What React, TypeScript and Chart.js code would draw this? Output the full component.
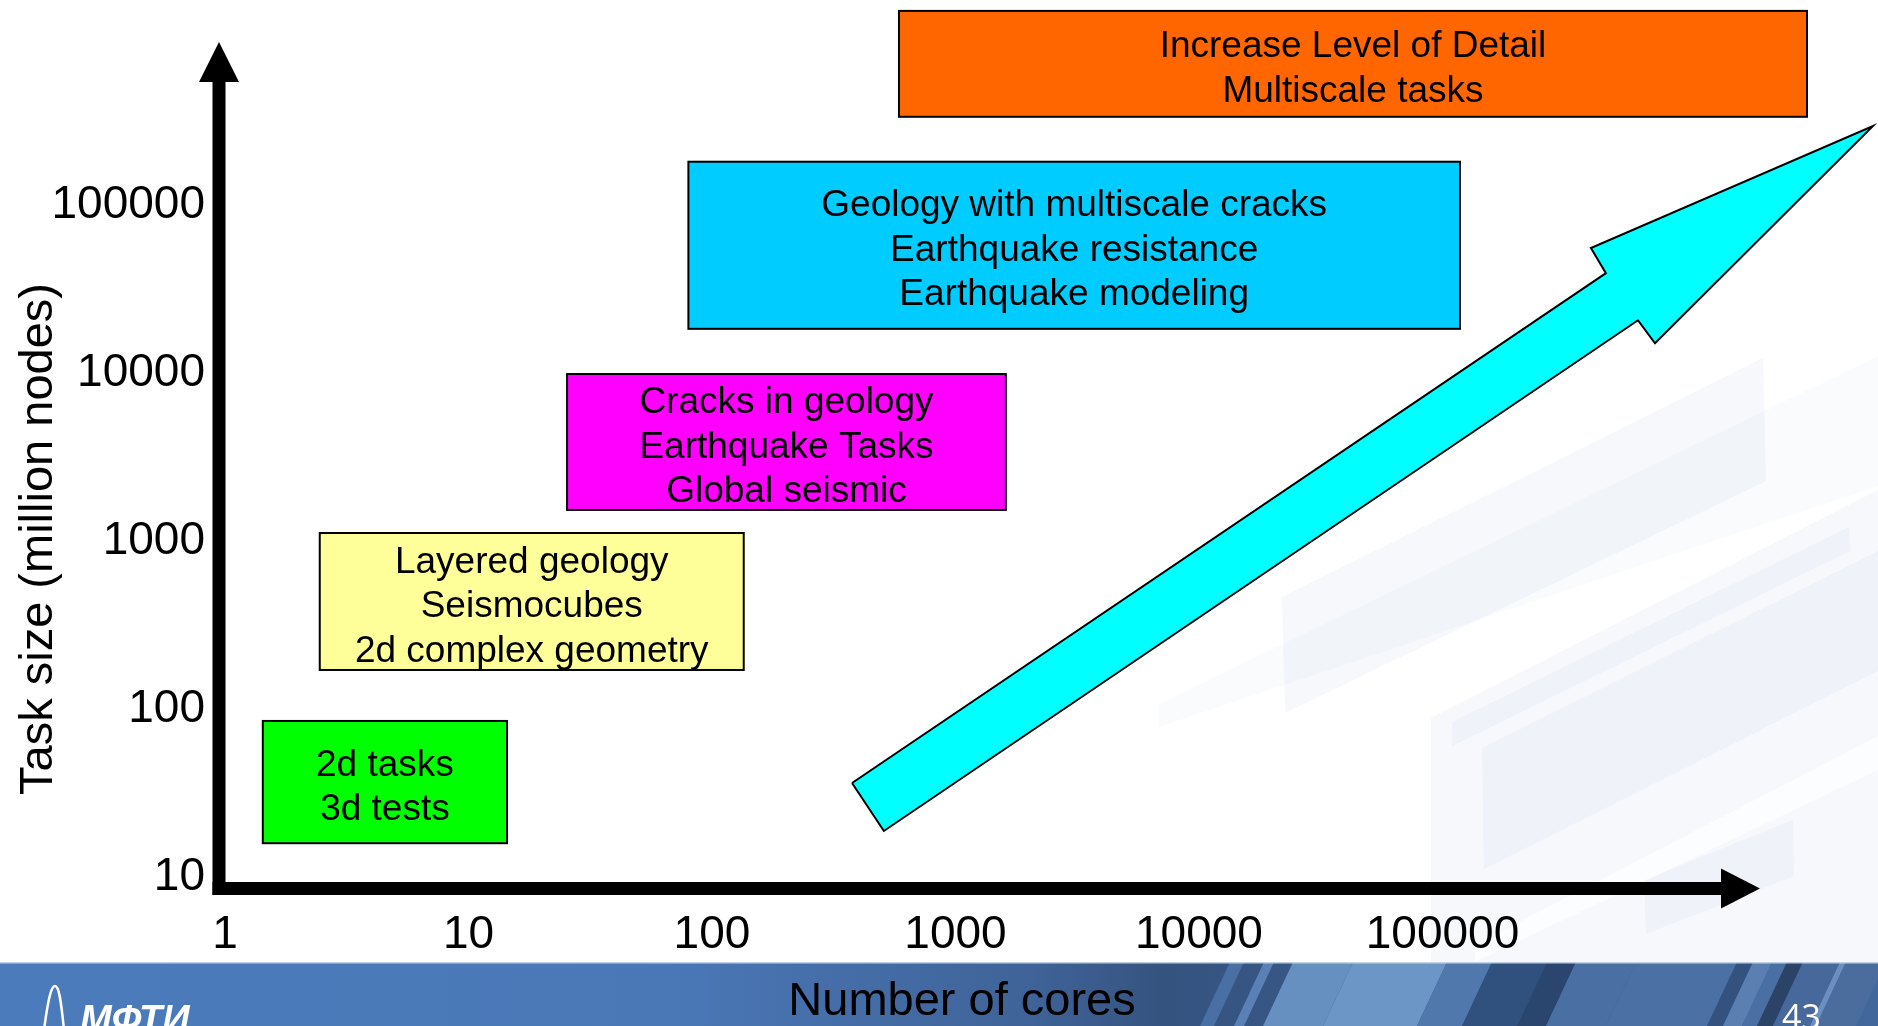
import React, { useEffect, useRef } from 'react';
import { Chart, registerables } from 'chart.js';

Chart.register(...registerables);

// ---------------- data ----------------
const xTickValues = [1, 10, 100, 1000, 10000, 100000];
const yTickValues = [10, 100, 1000, 10000, 100000];
const xAxisTitle = 'Number of cores';
const yAxisTitle = 'Task size (million nodes)';

const boxLabels = [
  ['Increase Level of Detail', 'Multiscale tasks'],
  ['Geology with multiscale cracks', 'Earthquake resistance', 'Earthquake modeling'],
  ['Cracks in geology', 'Earthquake Tasks', 'Global seismic'],
  ['Layered geology', 'Seismocubes', '2d complex geometry'],
  ['2d tasks', '3d tests'],
];
const boxCoresFrom = [586, 80, 25.4, 2.45, 1.43];
const boxCoresTo = [3.14e6, 1.18e5, 1610, 135, 14.4];
const boxSizeFrom = [3.37e5, 1.84e4, 1535, 171, 15.9];
const boxSizeTo = [1.44e6, 1.82e5, 9900, 1119, 85];

// trend arrow outline (cores, task size)
const arrowCores = [376, 4.69e5, 4.07e5, 5.86e6, 7.46e5, 6.35e5, 508, 376];
const arrowSize = [36.3, 3.95e4, 5.57e4, 2.97e5, 1.51e4, 2.07e4, 18.8, 36.3];

const pageNumber = '43';
const logoText = 'МФТИ';

// ---------------- styles ----------------
const boxColors = ['#FF6600', '#00CCFF', '#FF00FF', '#FFFF99', '#00FF00'];
const arrowColor = '#00FFFF';
const FONT = '"Liberation Sans", Arial, Helvetica, sans-serif';
const W = 1878;
const H = 1026;

const backgroundPlugin = {
  id: 'slideBackground',
  beforeDraw(chart: any) {
    const ctx: CanvasRenderingContext2D = chart.ctx;
    ctx.save();
    ctx.fillStyle = '#ffffff';
    ctx.fillRect(0, 0, W, H);

    const poly = (pts: number[][], color: string) => {
      ctx.beginPath();
      pts.forEach((p, i) => (i ? ctx.lineTo(p[0], p[1]) : ctx.moveTo(p[0], p[1])));
      ctx.closePath();
      ctx.fillStyle = color;
      ctx.fill();
    };
    const wm = 'rgba(214,224,240,0.22)';
    poly([[1159, 704], [1878, 356], [1878, 486], [1159, 727]], 'rgba(214,224,240,0.14)');
    poly([[1282, 597], [1763, 358], [1766, 481], [1285, 713]], wm);
    poly([[1431, 718], [1878, 490], [1878, 962], [1431, 962]], wm);
    poly([[1482, 748], [1878, 551], [1878, 671], [1484, 869]], wm);
    poly([[1452, 722], [1849, 527], [1850, 551], [1452, 746]], wm);
    poly([[1644, 880], [1793, 820], [1794, 876], [1646, 934]], wm);
    poly([[1475, 945], [1878, 736], [1878, 770], [1475, 962]], 'rgba(255,255,255,0.7)');

    // bottom banner
    const top = 962;
    const g = ctx.createLinearGradient(0, 0, W, 0);
    g.addColorStop(0, '#4b7bbb');
    g.addColorStop(0.35, '#4a78b7');
    g.addColorStop(0.55, '#3f6398');
    g.addColorStop(0.62, '#35537f');
    g.addColorStop(1, '#42679b');
    ctx.fillStyle = g;
    ctx.fillRect(0, top, W, H - top);

    ctx.save();
    ctx.beginPath();
    ctx.rect(0, top, W, H - top);
    ctx.clip();
    const stripe = (x: number, w: number, c: string) =>
      poly([[x, top], [x + w, top], [x + w - 30, H], [x - 30, H]], c);
    stripe(1230, 14, '#4a6fa3');
    stripe(1264, 10, '#5a80b5');
    stripe(1293, 60, '#6690c0');
    stripe(1353, 94, '#6b96c6');
    stripe(1447, 45, '#5078ad');
    stripe(1492, 55, '#30507e');
    stripe(1547, 29, '#2a466f');
    stripe(1576, 60, '#4a6fa3');
    stripe(1636, 101, '#4b71a4');
    stripe(1737, 16, '#34527f');
    stripe(1753, 19, '#5b7fb0');
    stripe(1772, 15, '#4a6fa3');
    stripe(1787, 16, '#2c4368');
    stripe(1803, 37, '#46689a');
    stripe(1840, 6, '#6b8fc0');
    stripe(1846, 40, '#4a6d9e');
    ctx.restore();

    ctx.fillStyle = 'rgba(205,218,236,0.9)';
    ctx.fillRect(0, top, W, 1.5);

    // logo
    ctx.strokeStyle = '#ffffff';
    ctx.lineWidth = 2.5;
    ctx.beginPath();
    ctx.moveTo(44, 1030);
    ctx.bezierCurveTo(48, 1000, 51, 986, 55, 986);
    ctx.bezierCurveTo(59, 986, 61, 1000, 64, 1030);
    ctx.stroke();
    ctx.fillStyle = '#ffffff';
    ctx.font = `italic bold 38px ${FONT}`;
    ctx.textAlign = 'left';
    ctx.textBaseline = 'alphabetic';
    ctx.fillText(logoText, 80, 1032);

    // page number
    ctx.font = `34px "Open Sans", ${FONT}`;
    ctx.fillText(pageNumber, 1782, 1029);
    ctx.restore();
  },
};

const arrowFillPlugin = {
  id: 'arrowFill',
  beforeDatasetsDraw(chart: any) {
    const ctx: CanvasRenderingContext2D = chart.ctx;
    const xs = chart.scales.x;
    const ys = chart.scales.y;
    ctx.save();
    ctx.beginPath();
    arrowCores.forEach((c, i) => {
      const px = xs.getPixelForValue(c);
      const py = ys.getPixelForValue(arrowSize[i]);
      if (i === 0) ctx.moveTo(px, py);
      else ctx.lineTo(px, py);
    });
    ctx.closePath();
    ctx.fillStyle = arrowColor;
    ctx.fill();
    ctx.restore();
  },
};

const boxesPlugin = {
  id: 'taskBoxes',
  afterDatasetsDraw(chart: any) {
    const ctx: CanvasRenderingContext2D = chart.ctx;
    const xs = chart.scales.x;
    const ys = chart.scales.y;
    ctx.save();
    boxLabels.forEach((lines, i) => {
      const x1 = xs.getPixelForValue(boxCoresFrom[i]);
      const x2 = xs.getPixelForValue(boxCoresTo[i]);
      const y1 = ys.getPixelForValue(boxSizeTo[i]);
      const y2 = ys.getPixelForValue(boxSizeFrom[i]);
      ctx.fillStyle = boxColors[i];
      ctx.fillRect(x1, y1, x2 - x1, y2 - y1);
      ctx.strokeStyle = '#000000';
      ctx.lineWidth = 2;
      ctx.strokeRect(x1, y1, x2 - x1, y2 - y1);
      ctx.fillStyle = '#000000';
      ctx.font = `37px ${FONT}`;
      ctx.textAlign = 'center';
      ctx.textBaseline = 'middle';
      const lh = 44.5;
      const cx = (x1 + x2) / 2;
      const cy = (y1 + y2) / 2 + 5.5;
      lines.forEach((t, k) => {
        ctx.fillText(t, cx, cy + (k - (lines.length - 1) / 2) * lh);
      });
    });
    ctx.restore();
  },
};

const axesPlugin = {
  id: 'arrowAxes',
  afterDraw(chart: any) {
    const ctx: CanvasRenderingContext2D = chart.ctx;
    const ca = chart.chartArea;
    const x0 = ca.left;
    const yb = ca.bottom;
    ctx.save();
    ctx.fillStyle = '#000000';
    // vertical axis
    ctx.fillRect(x0 - 6.5, 78, 13, yb + 7 - 78);
    ctx.beginPath();
    ctx.moveTo(x0, 42);
    ctx.lineTo(x0 + 20, 82);
    ctx.lineTo(x0 - 20, 82);
    ctx.closePath();
    ctx.fill();
    // horizontal axis
    const tipX = ca.right + 55;
    ctx.fillRect(x0 - 6.5, yb - 6, tipX - 36 - (x0 - 6.5), 13);
    ctx.beginPath();
    ctx.moveTo(tipX, yb + 0.5);
    ctx.lineTo(tipX - 39, yb - 19.5);
    ctx.lineTo(tipX - 39, yb + 20.5);
    ctx.closePath();
    ctx.fill();
    ctx.restore();
  },
};

export default function App() {
  const ref = useRef<HTMLCanvasElement>(null);
  useEffect(() => {
    if (!ref.current) return;
    const chart = new Chart(ref.current, {
      type: 'scatter',
      data: {
        datasets: [
          {
            label: 'trend',
            data: arrowCores.map((c, i) => ({ x: c, y: arrowSize[i] })),
            showLine: true,
            fill: false,
            borderColor: '#000000',
            borderWidth: 2,
            borderJoinStyle: 'miter',
            pointRadius: 0,
            pointHoverRadius: 0,
            tension: 0,
            clip: false,
          } as any,
        ],
      },
      options: {
        responsive: false,
        animation: false,
        devicePixelRatio: 1,
        events: [],
        layout: { padding: { top: 190, right: 173, left: 0, bottom: 0 } },
        plugins: {
          legend: { display: false },
          tooltip: { enabled: false },
        },
        scales: {
          x: {
            type: 'logarithmic',
            min: 0.9449,
            max: 1.197e6,
            afterBuildTicks: (s: any) => {
              s.ticks = xTickValues.map((v) => ({ value: v }));
            },
            afterFit: (s: any) => {
              s.height = 138;
            },
            grid: { display: false, drawTicks: false },
            border: { display: false },
            ticks: {
              autoSkip: false,
              maxRotation: 0,
              minRotation: 0,
              padding: 20,
              color: '#000000',
              font: { family: FONT, size: 46 },
              callback: (v: any) => String(v),
            },
            title: {
              display: true,
              text: xAxisTitle,
              color: '#000000',
              font: { family: FONT, size: 47, lineHeight: 1 },
              padding: { top: 0, bottom: 0 },
            },
          },
          y: {
            type: 'logarithmic',
            min: 8.601,
            max: 123500,
            afterBuildTicks: (s: any) => {
              s.ticks = yTickValues.map((v) => ({ value: v }));
            },
            afterFit: (s: any) => {
              s.width = 219;
            },
            grid: { display: false, drawTicks: false },
            border: { display: false },
            ticks: {
              autoSkip: false,
              padding: 14,
              color: '#000000',
              font: { family: FONT, size: 46 },
              callback: (v: any) => String(v),
            },
            title: {
              display: true,
              text: yAxisTitle,
              color: '#000000',
              font: { family: FONT, size: 47, lineHeight: 1 },
              padding: { top: 15.5, bottom: 0 },
            },
          },
        },
      } as any,
      plugins: [backgroundPlugin, arrowFillPlugin, boxesPlugin, axesPlugin],
    });
    return () => chart.destroy();
  }, []);

  return (
    <div style={{ position: 'absolute', left: 0, top: 0, width: W, height: H, background: '#ffffff' }}>
      <canvas ref={ref} width={W} height={H} style={{ display: 'block', width: W, height: H }} />
    </div>
  );
}
